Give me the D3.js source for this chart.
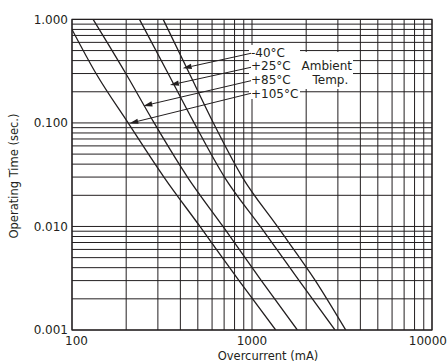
<!DOCTYPE html>
<html>
<head>
<meta charset="utf-8">
<script src="https://cdn.jsdelivr.net/npm/d3@7"></script>
<style>
  html, body { margin: 0; padding: 0; background: #fff; }
  svg { display: block; }
  text { font-family: "DejaVu Sans", sans-serif; fill: #231f20; }
</style>
</head>
<body>
<svg id="chart" width="448" height="363"></svg>
<script>
// ---- data ----
const timeLevels = [1, 0.3, 0.1, 0.03, 0.01, 0.003, 0.001];
const timeLevelsA = [0.8, 0.3, 0.1, 0.03, 0.01, 0.003, 0.001];
const current105 = [100, 136, 205, 324, 514, 847, 1354];
const current85  = [131, 199, 286, 438, 690, 1127, 1786];
const current25  = [237, 342, 477, 703, 1112, 1828, 2891];
const currentM40 = [321, 449, 610, 883, 1383, 2249, 3316];
const seriesLabels = ["-40°C", "+25°C", "+85°C", "+105°C"];
// arrow tips (mA, sec) for each label
const arrowTipI = [412, 350, 249, 208];
const arrowTipT = [0.337, 0.232, 0.146, 0.099];
const xTickValues = [100, 1000, 10000];
const xTickLabels = ["100", "1000", "10000"];
const yTickValues = [0.001, 0.01, 0.1, 1];
const yTickLabels = ["0.001", "0.010", "0.100", "1.000"];

const ink = "#231f20";
const svg = d3.select("#chart");
const x = d3.scaleLog().domain([100, 10000]).range([72, 432]);
const y = d3.scaleLog().domain([0.001, 1]).range([330, 19.4]);

// grid
const xGrid = [];
for (let d = 100; d < 10000; d *= 10) for (let k = 1; k <= 9; k++) xGrid.push(d * k);
xGrid.push(10000);
const yGrid = [];
for (let d = 0.001; d < 0.9; d *= 10) for (let k = 1; k <= 9; k++) yGrid.push(+(d * k).toPrecision(3));
yGrid.push(1);

const grid = svg.append("g");
grid.selectAll("line.v").data(xGrid).join("line")
  .attr("x1", d => x(d)).attr("x2", d => x(d))
  .attr("y1", y(1)).attr("y2", y(0.001))
  .attr("stroke", ink).attr("stroke-width", 1);
grid.selectAll("line.h").data(yGrid).join("line")
  .attr("y1", d => y(d)).attr("y2", d => y(d))
  .attr("x1", x(100)).attr("x2", x(10000))
  .attr("stroke", ink).attr("stroke-width", 1);

// white boxes behind annotations
svg.append("rect").attr("x", 249).attr("y", 45).attr("width", 51).attr("height", 54).attr("fill", "#fff");
svg.append("rect").attr("x", 300).attr("y", 52).attr("width", 53).attr("height", 37).attr("fill", "#fff");

// curves
svg.append("clipPath").attr("id", "clip").append("rect")
  .attr("x", 72).attr("y", 19.4).attr("width", 360).attr("height", 310.6);
const series = [
  { I: currentM40, T: timeLevels },
  { I: current25, T: timeLevels },
  { I: current85, T: timeLevels },
  { I: current105, T: timeLevelsA }
];
const line = d3.line().x(d => x(d[0])).y(d => y(d[1])).curve(d3.curveMonotoneX);
svg.append("g").attr("clip-path", "url(#clip)")
  .selectAll("path").data(series).join("path")
  .attr("d", s => line(s.I.map((v, i) => [v, s.T[i]])))
  .attr("fill", "none").attr("stroke", ink).attr("stroke-width", 1.3);

// frame
svg.append("rect").attr("x", x(100)).attr("y", y(1))
  .attr("width", x(10000) - x(100)).attr("height", y(0.001) - y(1))
  .attr("fill", "none").attr("stroke", ink).attr("stroke-width", 1.2);

// annotation labels + arrows
const labelY = [56.6, 70.0, 83.6, 97.6];
const leaderY = [53.3, 67.3, 80.7, 93.3];
svg.append("g").selectAll("text").data(seriesLabels).join("text")
  .attr("x", 251).attr("y", (d, i) => labelY[i])
  .attr("font-size", 12).text(d => d);
const arrows = svg.append("g");
seriesLabels.forEach((lab, i) => {
  const tx = x(arrowTipI[i]), ty = y(arrowTipT[i]);
  const sx = 251, sy = leaderY[i];
  const ang = Math.atan2(ty - sy, tx - sx);
  const L = 9, W = 2.6;
  const bx = tx - L * Math.cos(ang), by = ty - L * Math.sin(ang);
  arrows.append("line").attr("x1", sx).attr("y1", sy).attr("x2", bx).attr("y2", by)
    .attr("stroke", ink).attr("stroke-width", 1);
  const px = -Math.sin(ang) * W, py = Math.cos(ang) * W;
  arrows.append("path")
    .attr("d", `M${tx},${ty}L${bx + px},${by + py}L${bx - px},${by - py}Z`)
    .attr("fill", ink);
});
svg.append("text").attr("x", 301.5).attr("y", 70).attr("font-size", 12).text("Ambient");
svg.append("text").attr("x", 312.5).attr("y", 84).attr("font-size", 12).text("Temp.");

// axes tick labels
svg.append("g").selectAll("text").data(yTickValues).join("text")
  .attr("x", 68).attr("y", d => y(d) + 4.3)
  .attr("text-anchor", "end").attr("font-size", 12)
  .text((d, i) => yTickLabels[i]);
svg.append("g").selectAll("text").data(xTickValues).join("text")
  .attr("x", (d, i) => i === 0 ? x(d) + 4.5 : (i === 2 ? 447 : x(d)))
  .attr("y", 345)
  .attr("text-anchor", (d, i) => i === 2 ? "end" : "middle").attr("font-size", 12)
  .text((d, i) => xTickLabels[i]);

// axis titles
svg.append("text").attr("x", 268).attr("y", 359.5).attr("text-anchor", "middle")
  .attr("font-size", 11.5).text("Overcurrent (mA)");
svg.append("text").attr("transform", "translate(17.5,176) rotate(-90)")
  .attr("text-anchor", "middle").attr("font-size", 11.5).text("Operating Time (sec.)");
</script>
</body>
</html>
